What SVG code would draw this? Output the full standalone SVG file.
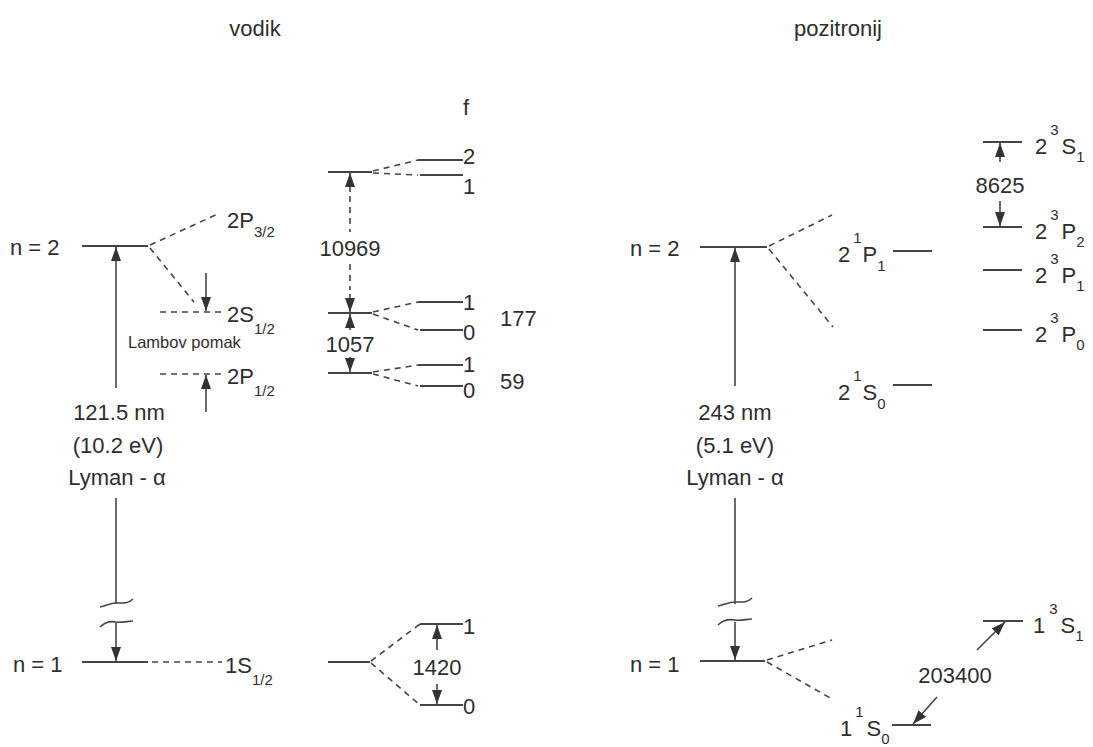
<svg xmlns="http://www.w3.org/2000/svg" width="1093" height="747" viewBox="0 0 1093 747">
<style>
text{font-family:"Liberation Sans",Arial,sans-serif;fill:#2e2e2e;font-size:22px}
.t{font-size:22px}
.s{font-size:15px}
.sm{font-size:16.5px}
.m{text-anchor:middle}
.lv{stroke:#444;stroke-width:2;fill:none}
.d{stroke:#444;stroke-width:1.6;stroke-dasharray:6,5;fill:none}
.a{stroke:#444;stroke-width:1.6;fill:none}
</style>
<defs>
<marker id="ah" viewBox="0 0 14 10" refX="14" refY="5" markerWidth="14" markerHeight="10" orient="auto" markerUnits="userSpaceOnUse"><path d="M0,0 L14,5 L0,10 z" fill="#333"/></marker>
</defs>

<g id="titles">
<text x="255" y="36" class="m">vodik</text>
<text x="838" y="36" class="m">pozitronij</text>
<text x="466" y="115" class="m">f</text>
</g>

<!-- Hydrogen -->
<g id="h-n2">
<line x1="82" y1="246" x2="148" y2="246" class="lv"/>
<text x="10" y="255">n = 2</text>
</g>
<g id="h-n1">
<line x1="82" y1="662" x2="148" y2="662" class="lv"/>
<text x="13" y="672">n = 1</text>
</g>
<g id="h-2p32">
<text x="227" y="228">2P<tspan class="s" dy="9">3/2</tspan></text>
</g>
<g id="h-2s12">
<line x1="160" y1="312" x2="222" y2="312" class="d"/>
<text x="227" y="322">2S<tspan class="s" dy="12">1/2</tspan></text>
</g>
<g id="h-2p12">
<line x1="160" y1="374" x2="222" y2="374" class="d"/>
<text x="227" y="384">2P<tspan class="s" dy="12">1/2</tspan></text>
</g>
<g id="h-lamb">
<text x="128" y="348" class="sm">Lambov pomak</text>
</g>
<g id="h-1s12">
<line x1="152" y1="662" x2="222" y2="662" class="d"/>
<text x="225" y="673">1S<tspan class="s" dy="12">1/2</tspan></text>
</g>
<g id="h-lyman">
<text x="119" y="420" class="m">121.5 nm</text>
<text x="118" y="453" class="m">(10.2 eV)</text>
<text x="117" y="485" class="m">Lyman - α</text>
</g>

<!-- hydrogen hyperfine -->
<g id="hf-2p32">
<line x1="328" y1="172" x2="372" y2="172" class="lv"/>
<line x1="418" y1="160" x2="463" y2="160" class="lv"/>
<line x1="420" y1="175" x2="463" y2="175" class="lv"/>
<text x="463" y="164">2</text>
<text x="463" y="194">1</text>
</g>
<g id="hf-2s12">
<line x1="328" y1="313" x2="372" y2="313" class="lv"/>
<line x1="418" y1="302" x2="463" y2="302" class="lv"/>
<line x1="420" y1="330" x2="463" y2="330" class="lv"/>
<text x="463" y="310">1</text>
<text x="463" y="340">0</text>
<text x="500" y="326">177</text>
</g>
<g id="hf-2p12">
<line x1="328" y1="373" x2="372" y2="373" class="lv"/>
<line x1="418" y1="365" x2="463" y2="365" class="lv"/>
<line x1="420" y1="386" x2="463" y2="386" class="lv"/>
<text x="463" y="372">1</text>
<text x="463" y="398">0</text>
<text x="500" y="389">59</text>
</g>
<g id="hf-1s12">
<line x1="328" y1="662" x2="370" y2="662" class="lv"/>
<line x1="420" y1="624" x2="463" y2="624" class="lv"/>
<line x1="420" y1="705" x2="463" y2="705" class="lv"/>
<text x="463" y="634">1</text>
<text x="463" y="714">0</text>
<text x="437" y="675" class="m">1420</text>
</g>
<g id="hf-labels">
<text x="350" y="256" class="m">10969</text>
<text x="350" y="352" class="m">1057</text>
</g>

<!-- Positronium -->
<g id="p-n2">
<line x1="700" y1="247" x2="767" y2="247" class="lv"/>
<text x="630" y="256">n = 2</text>
</g>
<g id="p-n1">
<line x1="700" y1="661" x2="765" y2="661" class="lv"/>
<text x="630" y="672">n = 1</text>
</g>
<g id="p-21p1">
<line x1="893" y1="251" x2="932" y2="251" class="lv"/>
<text x="838" y="262">2<tspan class="s" dy="-19" dx="3">1</tspan><tspan dy="19" dx="1">P</tspan><tspan class="s" dy="9">1</tspan></text>
</g>
<g id="p-21s0">
<line x1="893" y1="385" x2="932" y2="385" class="lv"/>
<text x="838" y="400">2<tspan class="s" dy="-19" dx="3">1</tspan><tspan dy="19" dx="1">S</tspan><tspan class="s" dy="9">0</tspan></text>
</g>
<g id="p-23s1">
<line x1="983" y1="142" x2="1022" y2="142" class="lv"/>
<text x="1035" y="154">2<tspan class="s" dy="-19" dx="3">3</tspan><tspan dy="19" dx="3">S</tspan><tspan class="s" dy="8">1</tspan></text>
</g>
<g id="p-23p2">
<line x1="983" y1="227" x2="1022" y2="227" class="lv"/>
<text x="1035" y="239">2<tspan class="s" dy="-19" dx="3">3</tspan><tspan dy="19" dx="3">P</tspan><tspan class="s" dy="8">2</tspan></text>
</g>
<g id="p-23p1">
<line x1="983" y1="270" x2="1022" y2="270" class="lv"/>
<text x="1035" y="283">2<tspan class="s" dy="-19" dx="3">3</tspan><tspan dy="19" dx="3">P</tspan><tspan class="s" dy="8">1</tspan></text>
</g>
<g id="p-23p0">
<line x1="983" y1="330" x2="1022" y2="330" class="lv"/>
<text x="1035" y="342">2<tspan class="s" dy="-19" dx="3">3</tspan><tspan dy="19" dx="3">P</tspan><tspan class="s" dy="8">0</tspan></text>
</g>
<g id="p-13s1">
<line x1="983" y1="621" x2="1023" y2="621" class="lv"/>
<text x="1033" y="633">1<tspan class="s" dy="-19" dx="4">3</tspan><tspan dy="19" dx="3">S</tspan><tspan class="s" dy="8">1</tspan></text>
</g>
<g id="p-11s0">
<line x1="892" y1="725" x2="931" y2="725" class="lv"/>
<text x="840" y="736">1<tspan class="s" dy="-19" dx="3">1</tspan><tspan dy="19" dx="3">S</tspan><tspan class="s" dy="8">0</tspan></text>
</g>
<g id="p-lyman">
<text x="735" y="420" class="m">243 nm</text>
<text x="735" y="453" class="m">(5.1 eV)</text>
<text x="735" y="485" class="m">Lyman - α</text>
</g>
<g id="p-labels">
<text x="1000" y="193" class="m">8625</text>
<text x="955" y="683" class="m">203400</text>
</g>

<g id="connectors">
<!-- hydrogen fine structure -->
<line x1="150" y1="245" x2="220" y2="213" class="d"/>
<line x1="150" y1="248" x2="194" y2="302" class="d"/>
<!-- Lyman alpha H -->
<line x1="116" y1="388" x2="116" y2="247" class="a" marker-end="url(#ah)"/>
<line x1="116" y1="498" x2="116" y2="604" class="a"/>
<line x1="116" y1="623" x2="116" y2="661" class="a" marker-end="url(#ah)"/>
<path d="M100,607 C106,606 110,603 116,603 C122,603 128,604 133,599" class="a"/>
<path d="M100,627 C105,622 111,621 116,622 C122,623 128,621 133,621" class="a"/>
<!-- Lamb shift arrows -->
<line x1="206" y1="273" x2="206" y2="311" class="a" marker-end="url(#ah)"/>
<line x1="206" y1="412" x2="206" y2="375" class="a" marker-end="url(#ah)"/>
<!-- hyperfine splits -->
<line x1="373" y1="171" x2="418" y2="160" class="d"/>
<line x1="373" y1="173" x2="418" y2="175" class="d"/>
<line x1="373" y1="312" x2="418" y2="302" class="d"/>
<line x1="373" y1="314" x2="418" y2="330" class="d"/>
<line x1="373" y1="372" x2="418" y2="365" class="d"/>
<line x1="373" y1="374" x2="418" y2="386" class="d"/>
<line x1="371" y1="661" x2="420" y2="624" class="d"/>
<line x1="371" y1="663" x2="420" y2="705" class="d"/>
<!-- 10969 -->
<line x1="350" y1="192" x2="350" y2="173" class="a" marker-end="url(#ah)"/>
<line x1="350" y1="196" x2="350" y2="232" class="d"/>
<line x1="350" y1="264" x2="350" y2="290" class="d"/>
<line x1="350" y1="294" x2="350" y2="312" class="a" marker-end="url(#ah)"/>
<!-- 1057 -->
<line x1="350" y1="330" x2="350" y2="314" class="a" marker-end="url(#ah)"/>
<line x1="350" y1="357" x2="350" y2="372" class="a" marker-end="url(#ah)"/>
<!-- 1420 -->
<line x1="437" y1="650" x2="437" y2="625" class="a" marker-end="url(#ah)"/>
<line x1="437" y1="684" x2="437" y2="704" class="a" marker-end="url(#ah)"/>
<!-- positronium -->
<line x1="769" y1="246" x2="832" y2="215" class="d"/>
<line x1="769" y1="249" x2="833" y2="327" class="d"/>
<line x1="735" y1="386" x2="735" y2="248" class="a" marker-end="url(#ah)"/>
<line x1="735" y1="498" x2="735" y2="604" class="a"/>
<line x1="735" y1="622" x2="735" y2="660" class="a" marker-end="url(#ah)"/>
<path d="M718,606 C724,605 729,602 735,602 C741,602 747,603 752,598" class="a"/>
<path d="M718,625 C723,620 729,619 735,620 C741,621 747,619 752,619" class="a"/>
<line x1="767" y1="660" x2="832" y2="640" class="d"/>
<line x1="767" y1="662" x2="832" y2="699" class="d"/>
<line x1="1000" y1="162" x2="1000" y2="143" class="a" marker-end="url(#ah)"/>
<line x1="1000" y1="201" x2="1000" y2="226" class="a" marker-end="url(#ah)"/>
<line x1="937" y1="697" x2="913" y2="724" class="a" marker-end="url(#ah)"/>
<line x1="977" y1="650" x2="1005" y2="622" class="a" marker-end="url(#ah)"/>
</g>
</svg>
